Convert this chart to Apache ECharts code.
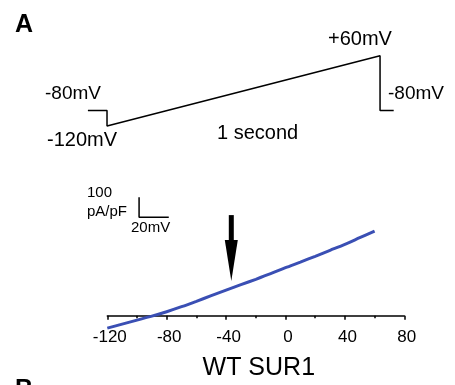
<!DOCTYPE html>
<html>
<head>
<meta charset="utf-8">
<script src="https://cdn.jsdelivr.net/npm/echarts@6/dist/echarts.min.js"></script>
<style>
html,body{margin:0;padding:0;background:#fff;}
#chart{width:455px;height:385px;}
</style>
</head>
<body>
<div id="chart"></div>
<script>
// ---- data ----
// I-V relation (membrane voltage in mV, current density in pA/pF)
const ivVoltage = [-120,-110,-100,-90,-80,-70,-60,-50,-40,-30,-20,-10,0,10,20,30,40,50,60];
const ivCurrent = [-62,-42,-22,-2,20,45,72,100,128,155,182,210,240,268,297,327,357,390,423];
const xTickValues = [-120,-80,-40,0,40,80];
// voltage protocol (time in s, voltage in mV)
const protocolTime = [-0.07, 0, 0, 1, 1, 1.05];
const protocolVoltage = [-80, -80, -120, 60, -80, -80];
// scale bar sizes
const scaleBarCurrent = [100];   // pA/pF
const scaleBarVoltage = [20];    // mV
// arrow: voltage, start current, tip current
const arrowMark = [[-36.5, 503, 173]];

const FONT = '"Liberation Sans", Arial, sans-serif';
const chart = echarts.init(document.getElementById('chart'), null, {renderer:'canvas'});

const sbX = -98.6, sbY = 492; // scale bar corner (data units)
const scaleBarData = [
  [sbX, sbY + scaleBarCurrent[0]],
  [sbX, sbY],
  [sbX + scaleBarVoltage[0], sbY]
];

function txt(text, x, y, size, opts) {
  return {
    type: 'text', x: x, y: y,
    style: { text: text, font: (opts && opts.bold ? 'bold ' : '') + size + 'px ' + FONT,
             fill: '#000', align: (opts && opts.align) || 'left', verticalAlign: 'middle' }
  };
}

chart.setOption({
  animation: false,
  backgroundColor: '#fff',
  grid: [
    { left: 107.3, width: 297, top: 191.7, height: 124, containLabel: false, outerBoundsMode: 'none' },
    { left: 87.9, width: 305.8, top: 51.9, height: 78, containLabel: false, outerBoundsMode: 'none' }
  ],
  xAxis: [
    {
      gridIndex: 0, type: 'value', min: xTickValues[0], max: xTickValues[xTickValues.length-1],
      interval: 40,
      axisLine: { onZero: false, lineStyle: { color: '#000', width: 1.5 } },
      axisTick: { show: true, inside: false, length: 4, lineStyle: { color: '#000', width: 1.5 } },
      minorTick: { show: true, splitNumber: 2, length: 2.5, lineStyle: { color: '#000', width: 1.5 } },
      splitLine: { show: false },
      axisLabel: { color: '#000', fontSize: 17, fontFamily: FONT, margin: 13, padding: [0, 0, 0, 5] },
      name: 'WT SUR1', nameLocation: 'middle', nameGap: 40,
      nameTextStyle: { color: '#000', fontSize: 25, fontFamily: FONT, padding: [0, 0, 0, 6] }
    },
    { gridIndex: 1, type: 'value', min: -0.07, max: 1.05, show: false }
  ],
  yAxis: [
    { gridIndex: 0, type: 'value', min: 0, max: 620, show: false, splitLine:{show:false} },
    { gridIndex: 1, type: 'value', min: -130, max: 70, show: false, splitLine:{show:false} }
  ],
  series: [
    {
      type: 'line', xAxisIndex: 0, yAxisIndex: 0, clip: false,
      data: ivVoltage.map((v, i) => [v, ivCurrent[i]]),
      smooth: 0.3, symbol: 'none',
      lineStyle: { color: '#3a4fb4', width: 3 }
    },
    {
      type: 'line', xAxisIndex: 0, yAxisIndex: 0, clip: false,
      data: scaleBarData, symbol: 'none',
      lineStyle: { color: '#000', width: 1.5 }
    },
    {
      type: 'custom', xAxisIndex: 0, yAxisIndex: 0, clip: false,
      data: arrowMark,
      encode: { x: 0, y: [1, 2] },
      renderItem: function (params, api) {
        const top = api.coord([api.value(0), api.value(1)]);
        const tip = api.coord([api.value(0), api.value(2)]);
        const headLen = 41, headW = 13, shaftW = 5;
        return {
          type: 'group',
          children: [
            { type: 'rect', shape: { x: top[0] - shaftW/2, y: top[1], width: shaftW, height: tip[1] - headLen - top[1] + 1 },
              style: { fill: '#000' } },
            { type: 'polygon', shape: { points: [[tip[0]-headW/2, tip[1]-headLen], [tip[0]+headW/2, tip[1]-headLen], [tip[0], tip[1]]] },
              style: { fill: '#000' } }
          ]
        };
      }
    },
    {
      type: 'line', xAxisIndex: 1, yAxisIndex: 1, clip: false,
      data: protocolTime.map((t, i) => [t, protocolVoltage[i]]),
      symbol: 'none',
      lineStyle: { color: '#000', width: 1.5 }
    }
  ],
  graphic: [
    txt('A', 15, 25, 25, {bold: true}),
    txt('+60mV', 328, 39, 20),
    txt('-80mV', 45, 94, 19),
    txt('-80mV', 388, 94, 19),
    txt('-120mV', 47, 140, 20),
    txt('1 second', 217, 133, 20),
    txt('100', 87, 193, 15),
    txt('pA/pF', 87, 212, 15),
    txt('20mV', 131, 228, 15),
    txt('B', 15, 390, 25, {bold: true})
  ]
});
</script>
</body>
</html>
